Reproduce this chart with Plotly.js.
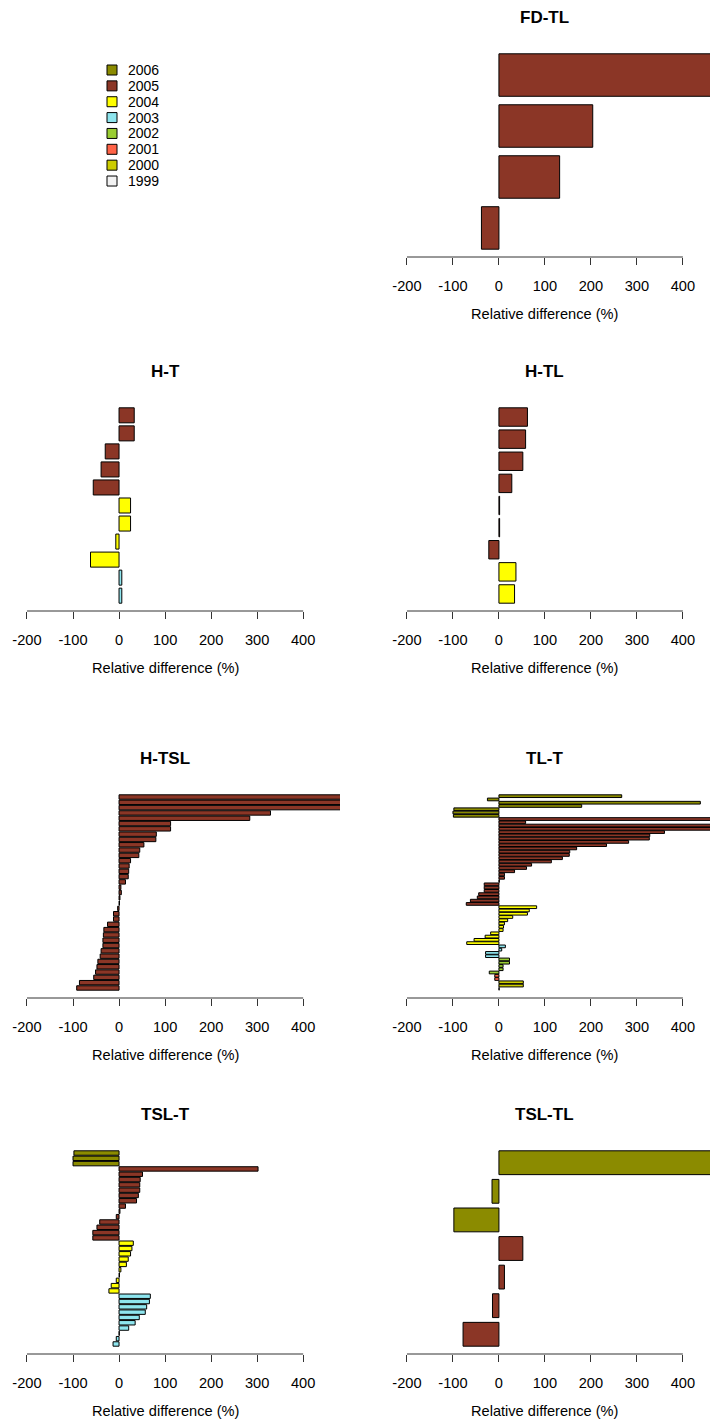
<!DOCTYPE html>
<html>
<head>
<meta charset="utf-8">
<script src="https://cdn.plot.ly/plotly-3.0.1.min.js"></script>
<style>html,body{margin:0;padding:0;background:#fff;overflow:hidden}</style>
</head>
<body>
<div id="chart" style="width:710px;height:1423px"></div>
<script>
// ---------- categories ----------
const years = ['2006', '2005', '2004', '2003', '2002', '2001', '2000', '1999'];
const yearColors = ['#8B8B00', '#8B3626', '#FFFF00', '#8EE5EE', '#9ACD32', '#FF6347', '#CDCD00', '#F2F2F2'];

const panelTitles = ['FD-TL', 'H-T', 'H-TL', 'H-TSL', 'TL-T', 'TSL-T', 'TSL-TL'];
const xTickVals = [-200, -100, 0, 100, 200, 300, 400];
const xTickText = ['-200', '-100', '0', '100', '200', '300', '400'];
const xAxisTitle = 'Relative difference (%)';

// ---------- values (relative difference, %), listed top to bottom ----------
// FD-TL
const fdtl2005 = [700, 204, 132, -38];
// H-T
const ht2005 = [33, 33, -30, -39, -56];
const ht2004 = [25, 25, -7, -62];
const ht2003 = [6, 6];
// H-TL
const htl2005 = [62, 58, 52, 28, 1.5, 1.5, -22];
const htl2004 = [37, 34];
// H-TSL
const htsl2005 = [650, 600, 560, 329, 284, 112, 112, 81, 80, 54, 45, 43, 25, 22, 21, 20, 14, 4, 5, 2, 1,
                  -3, -12, -12, -25, -33, -34, -35, -35, -39, -41, -46, -48, -51, -55, -86, -92];
// TL-T
const tlt2006 = [267, -25, 438, 180, -98, -100, -99];
const tlt2005 = [620, 58, 560, 540, 360, 328, 327, 282, 234, 169, 154, 153, 138, 114, 71, 60, 34, 12, 12, 1,
                 -32, -32, -32, -44, -47, -62, -71];
const tlt2004 = [82, 66, 62, 30, 19, 12, 10, 9, -18, -30, -54, -70];
const tlt2003 = [14, 6, -29, -29];
const tlt2002 = [23, 23, 9, 9, -21];
const tlt2001 = [-9, -9];
const tlt2000 = [53, 53];
const tlt1999 = [0.6];
// TSL-T
const tslt2006 = [-98, -100, -100];
const tslt2005 = [302, 51, 46, 45, 45, 42, 38, 14, 2, -6, -42, -48, -57, -57];
const tslt2004 = [31, 28, 25, 20, 16, 4, 1, -6, -17, -22];
const tslt2003 = [68, 66, 60, 57, 44, 35, 21, 0.6, -6, -13];
// TSL-TL
const tsltl2006 = [700, -15, -98];
const tsltl2005 = [52, 12, -14, -78];

// panel groups: [year, values]
const panelGroups = [
  [['2005', fdtl2005]],
  [['2005', ht2005], ['2004', ht2004], ['2003', ht2003]],
  [['2005', htl2005], ['2004', htl2004]],
  [['2005', htsl2005]],
  [['2006', tlt2006], ['2005', tlt2005], ['2004', tlt2004], ['2003', tlt2003], ['2002', tlt2002],
   ['2001', tlt2001], ['2000', tlt2000], ['1999', tlt1999]],
  [['2006', tslt2006], ['2005', tslt2005], ['2004', tslt2004], ['2003', tslt2003]],
  [['2006', tsltl2006], ['2005', tsltl2005]]
];

// ---------- layout geometry ----------
const W = 710, H = 1423;
const panelCell = [[1, 0], [0, 1], [1, 1], [0, 2], [1, 2], [0, 3], [1, 3]]; // [col,row]
const rowAxisY = [257, 611, 998, 1354];
const plotH = 211;
const colDomain = [[15 / W, 340 / W], [395 / W, 1]];
const colRange = [[-226, 480], [-226, 459]];
const titleFont = {family: 'Liberation Sans, Arial, sans-serif', size: 17, color: '#000', weight: 'bold'};
const textFont = {family: 'Liberation Sans, Arial, sans-serif', size: 14.6, color: '#000'};

const colorOf = y => yearColors[years.indexOf(y)];

const data = [];
const layout = {
  width: W, height: H,
  margin: {l: 0, r: 0, t: 0, b: 0},
  paper_bgcolor: '#fff', plot_bgcolor: 'rgba(0,0,0,0)',
  showlegend: false,
  shapes: [], annotations: []
};

panelGroups.forEach((groups, p) => {
  const k = p === 0 ? '' : String(p + 1);
  const [col, row] = panelCell[p];
  const vals = [], cols = [], names = [];
  groups.forEach(([yr, arr]) => arr.forEach(v => { vals.push(v); cols.push(colorOf(yr)); names.push(yr); }));
  const n = vals.length;
  const ypos = vals.map((v, i) => 0.7 + 1.2 * (n - 1 - i));
  const ext = 0.04 * (1.2 * n - 0.2);
  data.push({
    type: 'bar', orientation: 'h',
    x: vals, y: ypos, width: 1,
    marker: {color: cols, line: {color: '#000', width: 1}},
    xaxis: 'x' + k, yaxis: 'y' + k,
    hoverinfo: 'x+text', text: names, textposition: 'none'
  });
  const axisY = rowAxisY[row];
  layout['xaxis' + k] = {
    domain: colDomain[col], range: colRange[col], anchor: 'y' + k,
    showgrid: false, zeroline: false, showline: false,
    ticks: 'outside', ticklen: 7, tickwidth: 1, tickcolor: '#333',
    tickvals: xTickVals, ticktext: xTickText, ticklabelstandoff: 8,
    tickfont: textFont, fixedrange: true
  };
  layout['yaxis' + k] = {
    domain: [1 - axisY / H, 1 - (axisY - plotH) / H],
    range: [0.2 - ext, 1.2 * n + ext], anchor: 'x' + k,
    visible: false, showgrid: false, zeroline: false, fixedrange: true
  };
  layout.shapes.push({
    type: 'line', xref: 'x' + k, yref: 'y' + k + ' domain',
    x0: xTickVals[0], x1: xTickVals[xTickVals.length - 1], y0: 0, y1: 0,
    line: {color: '#333', width: 1}
  });
  layout.annotations.push({
    text: panelTitles[p], xref: 'x' + k, x: 100, yref: 'paper', y: 1 - (axisY - 240) / H,
    xanchor: 'center', yanchor: 'middle', showarrow: false, font: titleFont
  });
  layout.annotations.push({
    text: xAxisTitle, xref: 'x' + k, x: 100, yref: 'paper', y: 1 - (axisY + 57) / H,
    xanchor: 'center', yanchor: 'middle', showarrow: false, font: textFont
  });
});

// ---------- legend (top-left) ----------
years.forEach((yr, i) => {
  const yc = 70 + 15.86 * i;
  layout.shapes.push({
    type: 'rect', xref: 'paper', yref: 'paper',
    x0: 107 / W, x1: 117 / W, y0: 1 - (yc + 5) / H, y1: 1 - (yc - 5) / H,
    fillcolor: yearColors[i], line: {color: '#000', width: 1}
  });
  layout.annotations.push({
    text: yr, xref: 'paper', x: 126 / W, yref: 'paper', y: 1 - yc / H,
    xanchor: 'left', yanchor: 'middle', showarrow: false,
    font: {family: 'Liberation Sans, Arial, sans-serif', size: 14, color: '#000'}
  });
});

Plotly.newPlot('chart', data, layout, {staticPlot: true, displayModeBar: false});
</script>
</body>
</html>
